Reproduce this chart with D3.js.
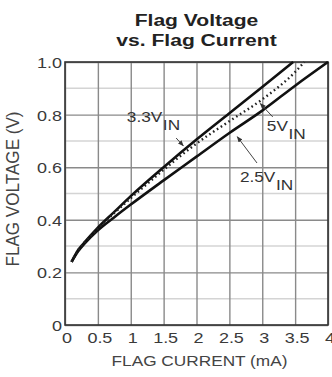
<!DOCTYPE html>
<html>
<head>
<meta charset="utf-8">
<script src="https://cdn.jsdelivr.net/npm/d3@7"></script>
<style>
  html, body { margin: 0; padding: 0; background: #fff; }
  svg { display: block; }
  text { font-family: "Liberation Sans", Arial, sans-serif; }
</style>
</head>
<body>
<script>
// ---- Data ----
const titleLines = ["Flag Voltage", "vs. Flag Current"];
const xTitle = "FLAG CURRENT (mA)";
const yTitle = "FLAG VOLTAGE (V)";
const xTicks = [0, 0.5, 1, 1.5, 2, 2.5, 3, 3.5, 4];
const xTickLabels = ["0", "0.5", "1", "1.5", "2", "2.5", "3", "3.5", "4"];
const yTicks = [0, 0.2, 0.4, 0.6, 0.8, 1.0];
const yTickLabels = ["0", "0.2", "0.4", "0.6", "0.8", "1.0"];
const yMinorTicks = [0.1, 0.3, 0.5, 0.7, 0.9];

// series: current (mA) -> flag voltage (V)
const current2v5 = [0.1, 0.2, 0.3, 0.5, 0.75, 1.0, 1.5, 2.0, 2.5, 3.0, 3.5, 4.0];
const volt2v5    = [0.24, 0.28, 0.31, 0.36, 0.41, 0.458, 0.55, 0.64, 0.73, 0.815, 0.91, 1.0];
const current3v3 = [0.1, 0.2, 0.3, 0.5, 0.75, 1.0, 1.5, 2.0, 2.5, 3.0, 3.47];
const volt3v3    = [0.24, 0.285, 0.315, 0.37, 0.43, 0.49, 0.6, 0.705, 0.805, 0.905, 1.0];
const current5v  = [0.1, 0.2, 0.3, 0.5, 0.75, 1.0, 1.5, 2.0, 2.5, 3.0, 3.5, 3.64];
const volt5v     = [0.24, 0.285, 0.315, 0.366, 0.426, 0.482, 0.59, 0.69, 0.775, 0.858, 0.962, 1.0];

// annotations (data units): label start, arrow from -> to
const labels = [
  { main: "3.3V", sub: "IN", x: 0.94, y: 0.772, ax1: 1.69, ay1: 0.711, ax2: 1.80, ay2: 0.681 },
  { main: "5V",   sub: "IN", x: 3.07, y: 0.738, ax1: 3.16, ay1: 0.791, ax2: 2.97, ay2: 0.842 },
  { main: "2.5V", sub: "IN", x: 2.66, y: 0.544, ax1: 2.92, ay1: 0.616, ax2: 2.62, ay2: 0.716 }
];

// ---- Layout ----
const W = 332, H = 377;
const L = 65, R = 328, T = 62, B = 325;

const svg = d3.select("body").append("svg").attr("width", W).attr("height", H);

const x = d3.scaleLinear().domain([0, 4]).range([L, R]);
const y = d3.scaleLinear().domain([0, 1]).range([B, T]);

// minor horizontal grid
svg.append("g").selectAll("line").data(yMinorTicks).join("line")
  .attr("x1", L).attr("x2", R)
  .attr("y1", d => y(d)).attr("y2", d => y(d))
  .attr("stroke", "#d4d4d4").attr("stroke-width", 1.5);

// major horizontal grid + y axis
const gy = svg.append("g").attr("transform", `translate(${L},0)`)
  .call(d3.axisLeft(y).tickValues(yTicks).tickSize(-(R - L)).tickFormat((d, i) => yTickLabels[i]));
gy.select(".domain").remove();
gy.selectAll(".tick line").attr("stroke", "#8a8a8a").attr("stroke-width", 1.4);
gy.selectAll(".tick text")
  .attr("x", null).attr("dy", "0.36em")
  .attr("transform", "translate(-3,0) scale(1.2,1)")
  .attr("fill", "#3a3a3a").attr("font-size", 15).attr("text-anchor", "end");

// vertical grid + x axis
const gx = svg.append("g").attr("transform", `translate(0,${B})`)
  .call(d3.axisBottom(x).tickValues(xTicks).tickSize(-(B - T)).tickFormat((d, i) => xTickLabels[i]));
gx.select(".domain").remove();
gx.selectAll(".tick line").attr("stroke", "#8a8a8a").attr("stroke-width", 1.4);
gx.selectAll(".tick text")
  .attr("y", null).attr("dy", null)
  .attr("transform", "translate(1.5,18) scale(1.2,1)")
  .attr("fill", "#3a3a3a").attr("font-size", 15).attr("text-anchor", "middle");

// frame
svg.append("rect").attr("x", L).attr("y", T).attr("width", R - L).attr("height", B - T)
  .attr("fill", "none").attr("stroke", "#333").attr("stroke-width", 1.6);

// clip
svg.append("clipPath").attr("id", "clip").append("rect")
  .attr("x", L).attr("y", T - 1).attr("width", R - L + 1).attr("height", B - T + 1);

const line = d3.line().x(d => x(d[0])).y(d => y(d[1])).curve(d3.curveMonotoneX);
const plot = svg.append("g").attr("clip-path", "url(#clip)");

plot.append("path").datum(d3.zip(current2v5, volt2v5)).attr("d", line)
  .attr("fill", "none").attr("stroke", "#111").attr("stroke-width", 2.6);
plot.append("path").datum(d3.zip(current3v3, volt3v3)).attr("d", line)
  .attr("fill", "none").attr("stroke", "#111").attr("stroke-width", 2.6);
plot.append("path").datum(d3.zip(current5v, volt5v)).attr("d", line)
  .attr("fill", "none").attr("stroke", "#222").attr("stroke-width", 2.4)
  .attr("stroke-dasharray", "1.6,3");

// arrow marker
const defs = svg.append("defs");
defs.append("marker").attr("id", "arr").attr("viewBox", "0 0 10 10")
  .attr("refX", 9).attr("refY", 5).attr("markerWidth", 6).attr("markerHeight", 6)
  .attr("orient", "auto")
  .append("path").attr("d", "M0,1 L10,5 L0,9 Z").attr("fill", "#333");

// annotations
labels.forEach(lb => {
  svg.append("line")
    .attr("x1", x(lb.ax1)).attr("y1", y(lb.ay1))
    .attr("x2", x(lb.ax2)).attr("y2", y(lb.ay2))
    .attr("stroke", "#444").attr("stroke-width", 1)
    .attr("marker-end", "url(#arr)");
  const g = svg.append("g").attr("transform", `translate(${x(lb.x)},${y(lb.y)}) scale(1.15,1)`);
  const t = g.append("text").attr("font-size", 15).attr("fill", "#333");
  t.append("tspan").text(lb.main);
  t.append("tspan").attr("dy", 8).attr("dx", 0.5).text(lb.sub);
});

// title
titleLines.forEach((s, i) => {
  svg.append("text")
    .attr("transform", `translate(${(L + R) / 2},${26 + i * 19.5}) scale(1.24,1)`)
    .attr("text-anchor", "middle").attr("font-size", 17).attr("font-weight", "bold")
    .attr("fill", "#222").text(s);
});

// axis titles
svg.append("text")
  .attr("transform", `translate(${(L + R) / 2 + 3},366) scale(1.15,1)`)
  .attr("text-anchor", "middle").attr("font-size", 15).attr("fill", "#444").text(xTitle);
svg.append("text")
  .attr("transform", `translate(19,189) rotate(-90) scale(1.14,1.2)`)
  .attr("text-anchor", "middle").attr("font-size", 15).attr("fill", "#444").text(yTitle);
</script>
</body>
</html>
